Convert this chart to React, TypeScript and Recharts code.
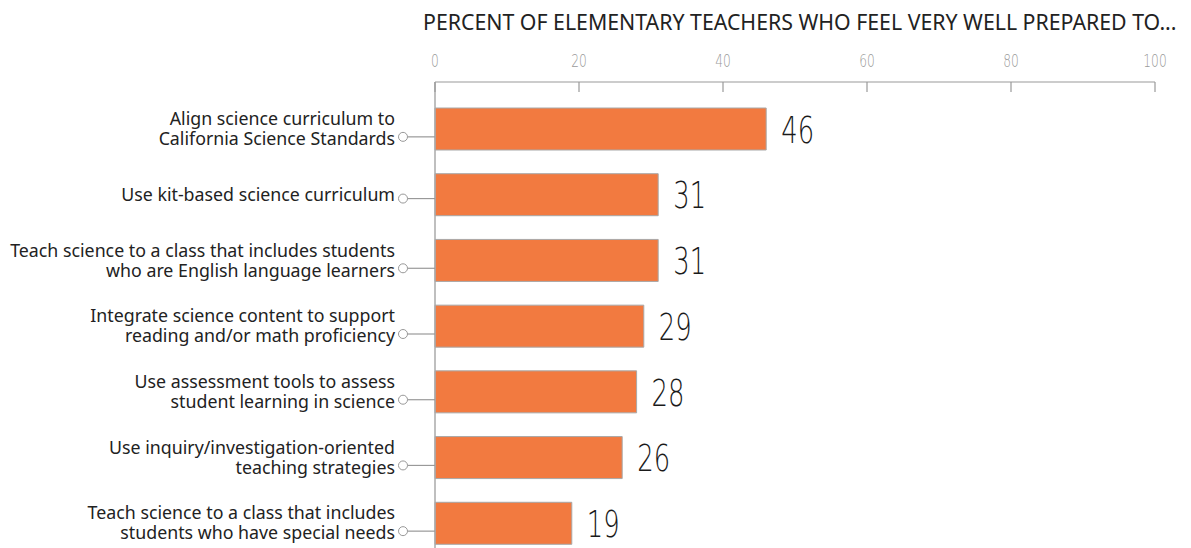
import React from 'react';
import { BarChart, Bar, XAxis, YAxis, LabelList } from 'recharts';

// 문항 (줄바꿈은 \n)
const categories = [
  'Align science curriculum to\nCalifornia Science Standards',
  'Use kit-based science curriculum',
  'Teach science to a class that includes students\nwho are English language learners',
  'Integrate science content to support\nreading and/or math proficiency',
  'Use assessment tools to assess\nstudent learning in science',
  'Use inquiry/investigation-oriented\nteaching strategies',
  'Teach science to a class that includes\nstudents who have special needs',
];
const percents = [46, 31, 31, 29, 28, 26, 19];
const xTicks = [0, 20, 40, 60, 80, 100];

const TITLE = 'PERCENT OF ELEMENTARY TEACHERS WHO FEEL VERY WELL PREPARED TO...';
const LABEL_FONT = '"Noto Sans", sans-serif';
const NUM_FONT = '"DejaVu Sans", sans-serif';

const data = categories.map((name, i) => ({ name, value: percents[i] }));

// 상단 눈금: 숫자(가로로 좁힘) + 아래로 내려오는 틱
const TopTick = (props: any) => {
  const { x, y, payload } = props;
  return (
    <g>
      <line x1={x} y1={y} x2={x} y2={y + 10} stroke="#999" strokeWidth={1.2} />
      <text
        transform={`translate(${x}, ${y - 15}) scale(0.72, 1)`}
        textAnchor="middle"
        fontFamily={NUM_FONT}
        fontWeight={300}
        fontSize={17}
        fill="#9a9a9a"
      >
        {payload.value}
      </text>
    </g>
  );
};

// 왼쪽 라벨: 우측정렬 텍스트 + 동그라미 + 연결선
const CategoryTick = (props: any) => {
  const { x, y, payload } = props;
  const lines = String(payload.value).split('\n');
  const lineGap = 20;
  const startY = y - ((lines.length - 1) * lineGap) / 2;
  const cy = lines.length > 1 ? y + 8 : y + 4;
  return (
    <g>
      {lines.map((l, i) => (
        <text
          key={i}
          x={x - 40}
          y={startY + i * lineGap}
          dy="0.35em"
          textAnchor="end"
          fontFamily={LABEL_FONT}
          fontSize={17.8}
          fill="#222"
        >
          {l}
        </text>
      ))}
      <circle cx={x - 32} cy={cy} r={4.5} fill="#fff" stroke="#999" strokeWidth={1} />
      <line x1={x - 27.5} y1={cy} x2={x} y2={cy} stroke="#999" strokeWidth={1.2} />
    </g>
  );
};

const ValueLabel = (props: any) => {
  const { x, y, width, height, value } = props;
  return (
    <text
      transform={`translate(${x + width + 15}, ${y + height / 2}) scale(0.68, 1)`}
      dy="0.36em"
      fontFamily={NUM_FONT}
      fontWeight={300}
      fontSize={38}
      fill="#1a1a1a"
    >
      {value}
    </text>
  );
};

export default function App() {
  return (
    <div style={{ position: 'absolute', left: 0, top: 0, width: 1191, height: 548, overflow: 'hidden', background: '#fff' }}>
      <div
        style={{
          position: 'absolute',
          left: 423,
          top: 7,
          fontFamily: LABEL_FONT,
          fontSize: 21.3,
          color: '#222',
          whiteSpace: 'nowrap',
          zIndex: 2,
        }}
      >
        {TITLE}
      </div>
      <BarChart
        width={1191}
        height={556}
        data={data}
        layout="vertical"
        margin={{ top: 0, right: 36, bottom: 0, left: 0 }}
      >
        <XAxis
          type="number"
          orientation="top"
          domain={[0, 100]}
          ticks={xTicks}
          height={82}
          tickLine={false}
          tickSize={0}
          tickMargin={0}
          axisLine={{ stroke: '#999', strokeWidth: 1.2 }}
          tick={<TopTick />}
          interval={0}
        />
        <YAxis
          type="category"
          dataKey="name"
          width={435}
          padding={{ top: 14, bottom: 0 }}
          tickLine={false}
          tickSize={0}
          tickMargin={0}
          axisLine={{ stroke: '#aaa', strokeWidth: 1.5 }}
          tick={<CategoryTick />}
          interval={0}
        />
        <Bar dataKey="value" fill="#F27A40" stroke="#a8a8a8" strokeWidth={1} barSize={42} isAnimationActive={false}>
          <LabelList dataKey="value" content={<ValueLabel />} />
        </Bar>
      </BarChart>
    </div>
  );
}
